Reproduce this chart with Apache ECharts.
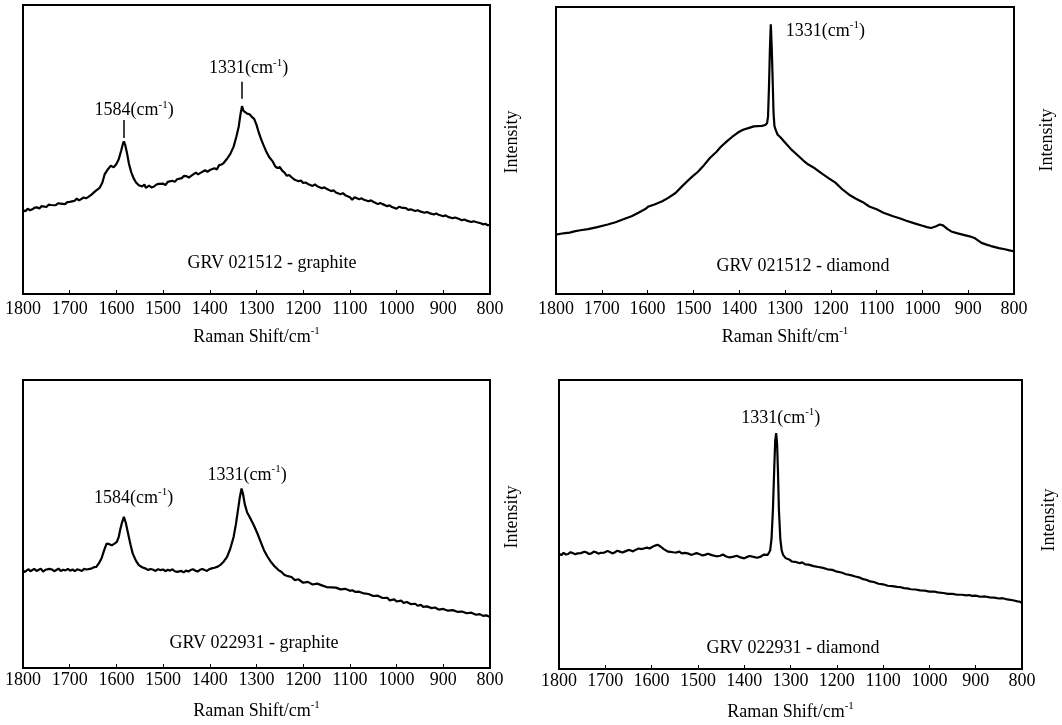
<!DOCTYPE html>
<html>
<head>
<meta charset="utf-8">
<script src="https://cdn.jsdelivr.net/npm/echarts@6/dist/echarts.min.js"></script>
<style>
html,body{margin:0;padding:0;background:#fff;}
#chart{width:1062px;height:725px;}
</style>
</head>
<body>
<div id="chart"></div>
<script>
// ---- data (Raman shift cm^-1, relative intensity) ----
const xTickValues = [1800,1700,1600,1500,1400,1300,1200,1100,1000,900,800];

const graphite021512 = [
[1800,29.1],[1795,28.6],[1790,29.5],[1785,29.0],[1780,29.3],[1775,29.9],[1770,30.0],[1765,29.6],[1760,30.4],[1750,30.1],[1745,30.9],[1740,30.8],[1730,30.7],[1725,31.4],[1720,31.3],[1710,31.1],[1705,31.8],[1700,31.9],[1690,32.2],[1685,33.0],[1680,32.4],[1670,33.4],[1665,33.1],[1660,33.6],[1654,34.3],[1645,35.6],[1636,36.7],[1630,38.6],[1625,41.5],[1618,43.2],[1612,44.4],[1606,43.8],[1600,45.0],[1595,46.6],[1590,49.5],[1586,52.0],[1584,52.8],[1581,51.5],[1577,48.5],[1573,45.0],[1568,42.0],[1563,40.0],[1558,38.6],[1552,37.6],[1545,37.2],[1540,37.9],[1537,36.7],[1530,37.5],[1525,36.9],[1520,37.1],[1515,37.8],[1510,38.1],[1500,38.2],[1495,37.7],[1490,38.8],[1480,39.2],[1475,38.8],[1470,39.7],[1460,40.1],[1455,40.9],[1450,40.8],[1445,40.3],[1440,40.9],[1430,42.0],[1425,41.4],[1420,41.9],[1410,42.8],[1405,42.3],[1400,42.9],[1390,43.5],[1385,43.1],[1380,44.6],[1375,44.8],[1370,45.4],[1363,46.8],[1356,48.5],[1349,51.0],[1343,54.5],[1338,58.0],[1334,62.5],[1331,65.0],[1328,63.4],[1324,63.2],[1320,62.4],[1315,62.2],[1310,61.3],[1305,60.6],[1300,58.5],[1295,55.8],[1290,53.5],[1285,51.5],[1280,49.6],[1273,47.4],[1265,45.8],[1260,44.2],[1255,43.6],[1250,43.9],[1245,42.7],[1240,42.0],[1235,40.9],[1230,41.2],[1225,40.4],[1218,39.5],[1210,39.0],[1205,39.3],[1200,38.4],[1195,38.6],[1190,38.1],[1180,37.4],[1175,37.9],[1170,37.3],[1160,36.6],[1155,36.9],[1150,36.4],[1140,35.6],[1135,35.9],[1130,35.1],[1120,34.5],[1115,34.9],[1110,34.2],[1100,33.5],[1095,32.6],[1090,33.5],[1080,32.8],[1075,33.1],[1070,32.6],[1060,32.1],[1055,32.4],[1050,31.9],[1040,31.1],[1035,31.5],[1030,31.1],[1020,30.4],[1015,30.7],[1010,30.1],[1000,29.5],[995,30.2],[990,29.9],[980,29.7],[975,29.1],[970,29.3],[960,28.7],[955,29.0],[950,28.6],[940,28.1],[935,28.4],[930,28.0],[920,27.5],[915,27.9],[910,27.4],[900,26.9],[895,27.2],[890,26.7],[880,26.2],[875,26.5],[870,26.2],[860,25.5],[855,25.8],[850,25.4],[840,24.9],[835,25.2],[830,24.9],[820,24.5],[815,24.1],[810,24.3],[805,23.8],[800,23.9]
];

const diamond021512 = [
[1800,20.7],[1790,21.0],[1780,21.2],[1770,21.4],[1760,21.8],[1747,22.2],[1730,22.6],[1710,23.3],[1687,24.2],[1670,25.0],[1650,26.2],[1635,27.1],[1620,28.3],[1605,29.6],[1598,30.5],[1585,31.2],[1568,32.3],[1555,33.5],[1539,35.2],[1525,37.5],[1510,39.8],[1502,41.0],[1490,42.6],[1480,44.3],[1464,47.4],[1450,49.5],[1440,51.3],[1427,53.2],[1415,54.8],[1405,56.0],[1398,56.7],[1390,57.3],[1380,57.8],[1368,58.4],[1360,58.5],[1350,58.6],[1343,58.9],[1339,59.6],[1337,62.0],[1335,72.0],[1333,85.0],[1331,94.0],[1329,86.0],[1327,75.0],[1325,63.0],[1323,58.5],[1320,57.0],[1316,55.5],[1310,54.6],[1300,52.8],[1286,50.3],[1270,48.0],[1260,46.5],[1249,45.1],[1235,43.8],[1220,42.0],[1205,40.4],[1190,38.8],[1175,36.5],[1160,34.6],[1145,33.2],[1130,32.0],[1116,30.5],[1100,29.5],[1085,28.3],[1064,27.1],[1050,26.4],[1035,25.5],[1019,24.7],[1000,23.8],[990,23.3],[981,23.0],[970,23.6],[962,24.2],[955,23.9],[945,22.6],[937,21.8],[925,21.2],[910,20.6],[897,20.1],[885,19.4],[871,17.8],[860,17.2],[850,16.7],[833,16.0],[820,15.6],[810,15.2],[800,14.9]
];

const graphite022931 = [
[1800,34.0],[1797,33.3],[1793,33.9],[1788,34.3],[1784,33.6],[1780,34.0],[1776,34.4],[1771,33.7],[1767,33.9],[1762,34.5],[1757,33.5],[1752,34.1],[1748,33.8],[1743,34.4],[1738,34.2],[1733,33.6],[1729,34.0],[1724,34.5],[1719,33.7],[1714,34.1],[1709,33.9],[1704,34.4],[1699,33.8],[1694,34.2],[1689,33.6],[1684,34.3],[1679,34.0],[1674,33.7],[1669,34.4],[1664,34.2],[1660,34.6],[1654,34.5],[1648,35.0],[1643,35.1],[1637,36.5],[1632,38.0],[1626,41.0],[1621,43.2],[1615,43.0],[1610,42.6],[1604,43.2],[1599,43.8],[1595,45.5],[1592,47.9],[1588,50.5],[1584,52.5],[1580,50.5],[1575,46.7],[1570,43.0],[1565,39.7],[1558,37.2],[1552,35.7],[1545,35.0],[1541,34.4],[1537,34.5],[1532,34.0],[1527,34.4],[1521,34.1],[1516,33.7],[1511,34.3],[1506,34.0],[1500,34.2],[1495,33.6],[1490,34.1],[1485,33.8],[1480,34.3],[1475,33.6],[1470,33.4],[1466,34.0],[1461,33.7],[1456,33.2],[1451,33.8],[1446,33.5],[1441,34.0],[1436,34.3],[1431,33.8],[1426,33.5],[1421,34.1],[1416,34.4],[1411,34.0],[1406,33.7],[1401,34.3],[1396,34.6],[1390,34.8],[1383,35.2],[1378,35.7],[1370,37.0],[1363,38.6],[1356,41.5],[1349,45.5],[1344,50.0],[1340,54.5],[1336,59.0],[1332,62.3],[1329,60.5],[1325,56.8],[1320,54.0],[1313,51.9],[1305,49.3],[1298,46.7],[1291,43.8],[1284,40.9],[1277,38.8],[1269,36.8],[1260,35.1],[1253,34.0],[1247,33.4],[1240,32.3],[1235,32.0],[1225,31.6],[1218,30.5],[1210,30.8],[1200,29.6],[1190,29.9],[1180,29.0],[1170,29.3],[1160,28.7],[1150,28.1],[1140,28.0],[1130,27.9],[1120,27.3],[1110,27.5],[1100,26.8],[1095,27.0],[1088,26.4],[1080,26.5],[1070,25.9],[1060,25.7],[1050,25.0],[1040,25.1],[1030,24.3],[1020,24.4],[1015,23.5],[1005,23.8],[1000,23.1],[990,23.4],[985,22.6],[978,22.9],[970,22.2],[960,22.3],[955,21.6],[948,21.9],[943,21.2],[935,21.4],[925,20.8],[918,21.0],[910,20.3],[900,20.5],[890,19.9],[880,20.1],[870,19.5],[860,19.6],[850,19.0],[840,19.2],[830,18.5],[822,18.7],[815,18.1],[808,18.3],[800,17.7]
];

const diamond022931 = [
[1800,39.9],[1795,39.4],[1790,40.2],[1785,39.6],[1780,39.8],[1775,40.4],[1770,40.1],[1765,39.7],[1760,40.0],[1753,40.1],[1745,40.6],[1740,40.3],[1735,39.8],[1730,40.0],[1725,40.6],[1720,40.4],[1715,39.9],[1710,40.2],[1702,40.3],[1695,40.8],[1690,40.5],[1685,40.0],[1680,40.3],[1675,40.9],[1670,40.7],[1663,40.3],[1657,40.7],[1650,41.2],[1645,41.0],[1640,40.7],[1635,41.2],[1628,41.7],[1621,41.5],[1615,41.8],[1610,42.0],[1604,41.7],[1599,42.2],[1594,42.6],[1590,42.5],[1587,43.0],[1584,42.6],[1580,42.3],[1578,42.0],[1573,41.4],[1569,41.2],[1564,40.6],[1560,40.8],[1553,40.4],[1547,40.3],[1540,40.6],[1535,40.0],[1528,40.2],[1520,39.9],[1515,39.5],[1510,39.7],[1503,40.1],[1496,39.7],[1490,39.3],[1485,39.5],[1478,39.9],[1470,39.4],[1460,39.0],[1452,39.2],[1446,39.6],[1440,39.0],[1432,38.6],[1425,38.8],[1416,39.2],[1408,38.6],[1400,38.3],[1395,38.7],[1388,39.1],[1380,38.8],[1372,38.5],[1364,38.9],[1358,39.6],[1355,39.2],[1349,39.5],[1344,41.0],[1341,45.0],[1338,55.0],[1335,70.0],[1333,79.0],[1331,81.6],[1329,78.0],[1327,68.0],[1325,55.0],[1322,45.0],[1319,41.0],[1316,39.5],[1310,38.3],[1303,37.9],[1297,37.2],[1290,37.1],[1280,36.6],[1275,36.9],[1268,36.2],[1261,36.1],[1250,35.6],[1240,35.3],[1230,35.0],[1220,34.5],[1210,34.3],[1202,33.8],[1190,33.4],[1180,32.8],[1170,32.5],[1160,32.0],[1150,31.6],[1145,31.2],[1135,30.8],[1128,30.3],[1120,30.1],[1110,29.5],[1100,29.3],[1090,28.8],[1080,28.7],[1070,28.4],[1062,28.3],[1055,28.0],[1048,27.9],[1040,27.6],[1030,27.5],[1020,27.2],[1010,27.1],[1000,26.8],[990,26.8],[982,26.5],[970,26.3],[960,26.0],[950,26.0],[940,25.7],[930,25.7],[920,25.5],[914,25.6],[908,25.3],[900,25.4],[890,25.0],[880,25.1],[870,24.8],[860,24.7],[850,24.4],[842,24.5],[835,24.2],[828,24.0],[820,23.8],[815,23.6],[810,23.4],[805,23.3],[800,22.8]
];

const sampleNames = ['GRV 021512 - graphite','GRV 021512 - diamond','GRV 022931 - graphite','GRV 022931 - diamond'];
const peakLabels = ['1584','1331'];
const xAxisTitle = 'Raman Shift/cm';
const yAxisTitle = 'Intensity';

// ---- layout ----
const FONT = '"Liberation Serif","Times New Roman",serif';
const FS = 18;
const grids = [
  {left:23, top:5, width:467, height:289},
  {left:556, top:7, width:458, height:287},
  {left:23, top:380, width:467, height:288},
  {left:559, top:380, width:463, height:289}
];
const labelMargins = [6,6,3,3];
const nameGaps = [32,32,32,32];
const richText = {
  a:{fontFamily:FONT,fontSize:FS,color:'#000',lineHeight:22},
  s:{fontFamily:FONT,fontSize:11,color:'#000',verticalAlign:'top',lineHeight:22}
};
function peakLabel(p){ return '{a|'+p+'(cm}{s|-1}{a|)}'; }

const chart = echarts.init(document.getElementById('chart'));

const xAxes = grids.map((g,i)=>({
  gridIndex:i, type:'value', min:800, max:1800, interval:100, inverse:true,
  axisLine:{show:true,lineStyle:{color:'#000',width:2}},
  axisTick:{show:true,inside:true,length:4,lineStyle:{color:'#000',width:1}},
  axisLabel:{color:'#000',fontFamily:FONT,fontSize:FS,margin:labelMargins[i],
    formatter:v=> xTickValues.indexOf(v)>=0 ? String(v) : ''},
  splitLine:{show:false},
  name:'{a|'+xAxisTitle+'}{s|-1}', nameLocation:'middle', nameGap:nameGaps[i],
  nameTextStyle:{rich:richText}
}));
const yAxes = grids.map((g,i)=>({
  gridIndex:i, type:'value', min:0, max:100,
  axisLine:{show:false}, axisTick:{show:false}, axisLabel:{show:false}, splitLine:{show:false}
}));

function mkSeries(i,data,marks,lines){
  return {
    type:'line', xAxisIndex:i, yAxisIndex:i, data:data, showSymbol:false, smooth:false,
    lineStyle:{color:'#000',width:2.2}, itemStyle:{color:'#000'}, animation:false, silent:true,
    markPoint:{
      symbol:'circle', symbolSize:1, itemStyle:{color:'rgba(0,0,0,0)'}, animation:false,
      label:{show:true,position:'inside',formatter:p=>p.name,rich:richText},
      data:marks.map(m=>({name:m.text,coord:m.coord}))
    },
    markLine:{
      symbol:'none', silent:true, animation:false,
      label:{show:false}, lineStyle:{color:'#000',width:1.5,type:'solid'},
      data:lines.map(l=>[{coord:l[0]},{coord:l[1]}])
    }
  };
}

const series = [
  mkSeries(0, graphite021512,
    [{text:peakLabel(peakLabels[0]),coord:[1562,63.5]},{text:peakLabel(peakLabels[1]),coord:[1317,78.0]}],
    [[[1584,54.0],[1584,60.2]],[[1331,67.6],[1331,73.4]]]),
  mkSeries(1, diamond021512,
    [{text:peakLabel(peakLabels[1]),coord:[1212,91.6]}], []),
  mkSeries(2, graphite022931,
    [{text:peakLabel(peakLabels[0]),coord:[1563,59.0]},{text:peakLabel(peakLabels[1]),coord:[1320,67.0]}], []),
  mkSeries(3, diamond022931,
    [{text:peakLabel(peakLabels[1]),coord:[1321,86.9]}], [])
];

const textStyle = {fill:'#000',font:FS+'px '+FONT,align:'center',verticalAlign:'middle'};
const sampleCenters = [[272,263],[803,266],[254,643],[793,648]];
const intensityCenters = [[512,142],[1047,140],[512,517],[1049,520]];
const graphic = [];
sampleNames.forEach((t,i)=>graphic.push({type:'text',x:sampleCenters[i][0],y:sampleCenters[i][1],
  style:Object.assign({text:t},textStyle),silent:true}));
intensityCenters.forEach(c=>graphic.push({type:'text',x:c[0],y:c[1],rotation:Math.PI/2,
  style:Object.assign({text:yAxisTitle},textStyle),silent:true}));

chart.setOption({
  animation:false,
  backgroundColor:'#fff',
  grid:grids.map(g=>Object.assign({show:true,borderColor:'#000',borderWidth:2,backgroundColor:'transparent'},g)),
  xAxis:xAxes, yAxis:yAxes, series:series, graphic:graphic
});
</script>
</body>
</html>
